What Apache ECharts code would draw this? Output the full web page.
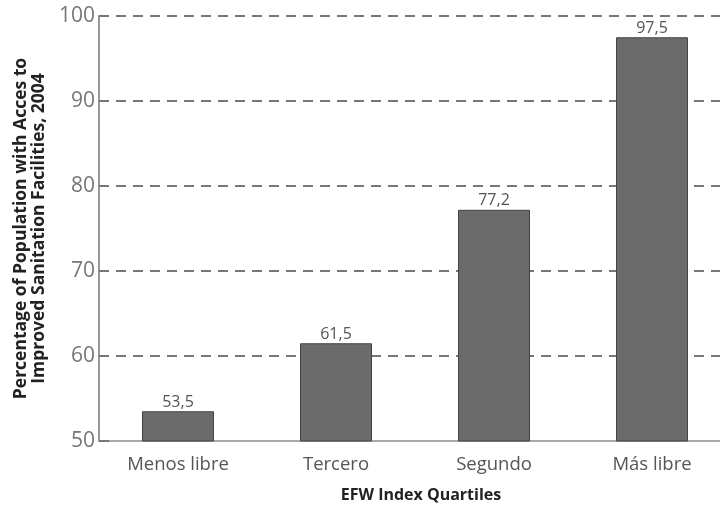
<!DOCTYPE html>
<html>
<head>
<meta charset="utf-8">
<script src="https://cdn.jsdelivr.net/npm/echarts@6/dist/echarts.min.js"></script>
<style>html,body{margin:0;padding:0;background:#fff}#c{width:720px;height:509px}</style>
</head>
<body>
<div id="c"></div>
<script>
var categories = ['Menos libre', 'Tercero', 'Segundo', 'Más libre'];
var values = [53.5, 61.5, 77.2, 97.5];
var yTicks = [50, 60, 70, 80, 90, 100];

var chart = echarts.init(document.getElementById('c'));
chart.setOption({
  animation: false,
  textStyle: { fontFamily: 'Open Sans' },
  grid: { left: 99, top: 16, height: 425, width: 632, outerBoundsMode: 'none', containLabel: false },
  xAxis: {
    type: 'category',
    data: categories,
    name: 'EFW Index Quartiles',
    nameLocation: 'middle',
    nameGap: 46,
    nameTextStyle: { fontSize: 16, fontWeight: 'bold', color: '#222', padding: [0, 0, 0, 12] },
    axisLine: { lineStyle: { color: '#aaa', width: 2 } },
    axisTick: { show: false },
    axisLabel: { fontSize: 18.5, color: '#555', margin: 14 }
  },
  yAxis: {
    type: 'value',
    min: yTicks[0],
    max: yTicks[yTicks.length - 1],
    interval: 10,
    name: 'Percentage of Population with Acces to\nImproved Sanitation Facilities, 2004',
    nameLocation: 'middle',
    nameGap: 49,
    nameTextStyle: { fontSize: 17.5, fontWeight: 'bold', color: '#222', lineHeight: 18 },
    axisLine: { show: true, lineStyle: { color: '#999', width: 2 } },
    axisTick: { show: true, inside: true, length: 10, lineStyle: { color: '#777', width: 2 } },
    axisLabel: { fontSize: 21, color: '#777', margin: 4 },
    splitLine: { show: true, lineStyle: { color: '#777', width: 2, type: [10, 7] } }
  },
  series: [{
    type: 'bar',
    data: values,
    barWidth: 72,
    itemStyle: { color: '#6b6b6b', borderColor: '#444', borderWidth: 1 },
    label: {
      show: true,
      position: 'top',
      distance: 1,
      fontSize: 16,
      color: '#555',
      formatter: function (p) { return String(p.value).replace('.', ','); }
    }
  }]
});
</script>
</body>
</html>
